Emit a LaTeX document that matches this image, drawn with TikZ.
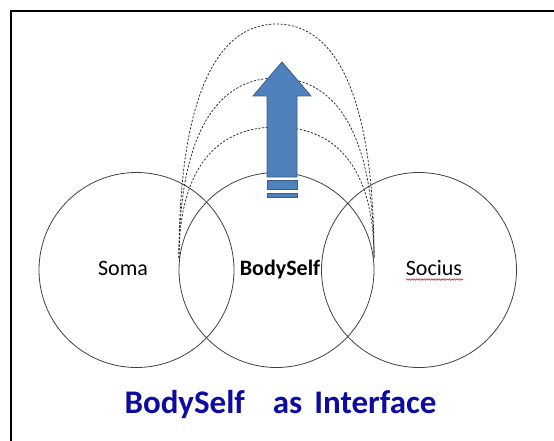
\documentclass[tikz,border=0pt]{standalone}
\usepackage{fontspec}
\setmainfont{Carlito}
\usetikzlibrary{decorations.pathmorphing}
\definecolor{arrowblue}{RGB}{79,129,189}
\definecolor{arrowline}{RGB}{56,93,138}
\definecolor{titleblue}{RGB}{12,12,160}

\begin{document}
\begin{tikzpicture}[x=1pt,y=-1pt,
    ring/.style={draw=black!75,line width=0.8pt,circle,minimum size=195pt,inner sep=0pt},
    lbl/.style={anchor=base,font=\fontsize{22}{26}\selectfont},
    loopline/.style={draw=black!85,dash pattern=on 2.2pt off 1.6pt,line width=0.75pt},
    blk/.style={fill=arrowblue,draw=arrowline,line width=0.8pt}
]
\useasboundingbox (0,0) rectangle (554,441);
\draw[line width=2pt] (11,441) -- (11,11) -- (554,11);
\node[ring] (soma) at (136.5,270) {};
\node[ring] (body) at (276.5,270) {};
\node[ring] (socius) at (419,270) {};
\coordinate (lf) at (179,258);
\coordinate (rt) at (374,258);
\foreach \h in {24,78,127}{
  \draw[loopline] (lf) .. controls (179,{258-0.65*(258-\h)}) and ({276.5-0.65*97.5},\h) .. (276.5,\h)
    .. controls ({276.5+0.65*97.5},\h) and (374,{258-0.65*(258-\h)}) .. (rt);
}
\draw[blk] (267,177) -- (267,96) -- (253,96) -- (282,62) -- (311,96) -- (297,96) -- (297,177) -- cycle;
\draw[blk] (267,180.5) rectangle (297,189);
\draw[blk] (267,193.5) rectangle (297,197);
\node[lbl] (somalbl) at (123,275.7) {Soma};
\node[lbl,font=\fontsize{22}{26}\selectfont\bfseries] (bodylbl) at (280,275.7) {BodySelf};
\node[lbl] (sociuslbl) at (434,275.7) {Socius};
\draw[red!80!black,line width=0.5pt,decorate,decoration={snake,amplitude=0.7pt,segment length=2.5pt}] (406,279.5) -- (463,279.5);
\node[anchor=base,text=titleblue,font=\fontsize{33}{40}\selectfont\bfseries] (title) at (280.5,413.3) {BodySelf\hspace{28pt}as\hspace{12pt}Interface};
\end{tikzpicture}
\end{document}
